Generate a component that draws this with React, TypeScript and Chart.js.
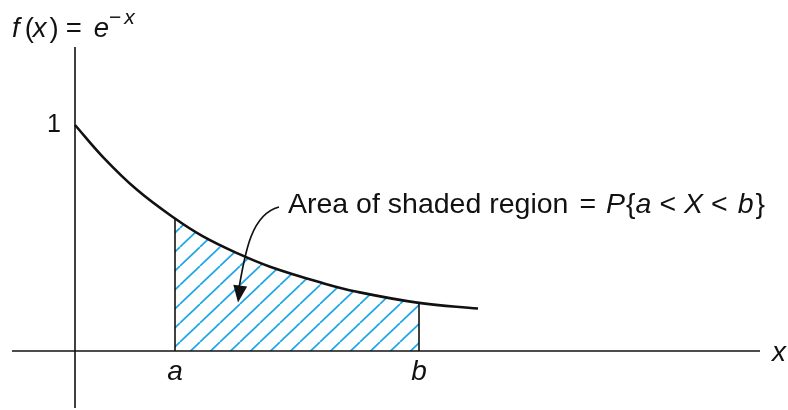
import { useEffect, useRef } from "react";
import { Chart, registerables } from "chart.js";

Chart.register(...registerables);

// Samples of the decaying density curve f(x) = e^{-x}
const curveX = [0, 0.28, 0.62, 1.0, 1.28, 1.62, 1.95, 2.48, 2.82, 3.44, 4.03];
const curveY = [1.0, 0.858, 0.713, 0.586, 0.507, 0.433, 0.373, 0.3, 0.262, 0.213, 0.188];

// Integration bounds a and b
const boundLabels = ["a", "b"];
const boundValues = [1.0, 3.44];

// Extent of the drawn axes
const xAxisExtent = [-0.63, 6.85];
const yAxisExtent = [-0.252, 1.345];

// Single labelled tick on the vertical axis
const yTickValues = [1];
const yTickLabels = ["1"];

// Callout arrow: cubic Bézier (start, control 1, control 2, tip) in data units
const arrowPoints = [
  [2.04, 0.637],
  [1.77, 0.606],
  [1.7, 0.447],
  [1.63, 0.215],
];
const calloutAnchor = [2.13, 0.611];

// Visible window of the plot in data units
const xView = [-0.75, 7.13];
const yView = [-0.261, 1.553];

const FONT = "'Liberation Sans', Arial, Helvetica, sans-serif";
const HATCH = "#1fa6e6";
const INK = "#111111";

type Run = { t: string; italic?: boolean; size?: number; dy?: number; gap?: number };

function drawRuns(ctx: CanvasRenderingContext2D, x: number, y: number, runs: Run[], baseSize: number) {
  let cx = x;
  for (const r of runs) {
    cx += r.gap ?? 0;
    const size = r.size ?? baseSize;
    ctx.font = `${r.italic ? "italic " : ""}${size}px ${FONT}`;
    ctx.fillText(r.t, cx, y + (r.dy ?? 0));
    cx += ctx.measureText(r.t).width;
  }
}

const pts = curveX.map((x, i) => ({ x, y: curveY[i] }));
const shaded = pts.filter((p) => p.x >= boundValues[0] - 1e-9 && p.x <= boundValues[1] + 1e-9);
const valueAt = (x: number) => curveY[curveX.indexOf(x)];

export default function App() {
  const ref = useRef<HTMLCanvasElement>(null);

  useEffect(() => {
    const canvas = ref.current!;
    const ctx = canvas.getContext("2d")!;

    // Diagonal hatch tile
    const tile = document.createElement("canvas");
    tile.width = 20;
    tile.height = 19;
    const tc = tile.getContext("2d")!;
    tc.strokeStyle = HATCH;
    tc.lineWidth = 1.7;
    for (const dx of [-20, 0, 20]) {
      tc.beginPath();
      tc.moveTo(dx, 19);
      tc.lineTo(dx + 20, 0);
      tc.stroke();
    }
    const hatch = ctx.createPattern(tile, "repeat")!;

    const annotate = {
      id: "annotate",
      afterDatasetsDraw(chart: any) {
        const c: CanvasRenderingContext2D = chart.ctx;
        const xs = chart.scales.x;
        const ys = chart.scales.y;
        const px = (v: number) => xs.getPixelForValue(v);
        const py = (v: number) => ys.getPixelForValue(v);
        c.save();
        c.fillStyle = INK;
        c.strokeStyle = INK;

        // Title: f(x) = e^{-x}
        c.textBaseline = "alphabetic";
        c.textAlign = "left";
        drawRuns(
          c,
          12,
          37,
          [
            { t: "f", italic: true },
            { t: "(", gap: 5 },
            { t: "x", italic: true, gap: -1 },
            { t: ")", gap: 3 },
            { t: "=", gap: 7 },
            { t: "e", italic: true, gap: 12 },
            { t: "\u2212", size: 21, dy: -13, gap: 0 },
            { t: "x", italic: true, size: 21, dy: -13, gap: 3 },
          ],
          27.5
        );

        // Tick label on y axis
        c.textAlign = "right";
        c.textBaseline = "middle";
        c.font = `25px ${FONT}`;
        yTickValues.forEach((v, i) => c.fillText(yTickLabels[i], px(0) - 14, py(v)));

        // Bound labels a, b
        c.textAlign = "center";
        c.textBaseline = "alphabetic";
        c.font = `italic 28px ${FONT}`;
        boundValues.forEach((v, i) => c.fillText(boundLabels[i], px(v), py(0) + 29));

        // Axis name
        c.textAlign = "left";
        c.fillText("x", px(xAxisExtent[1]) + 12, py(0) + 10);

        // Callout text
        drawRuns(
          c,
          px(calloutAnchor[0]),
          py(calloutAnchor[1]),
          [
            { t: "Area of shaded region" },
            { t: "=", gap: 11 },
            { t: "P", italic: true, gap: 10 },
            { t: "{", gap: 1 },
            { t: "a", italic: true },
            { t: "<", gap: 8 },
            { t: "X", italic: true, gap: 8 },
            { t: "<", gap: 8 },
            { t: "b", italic: true, gap: 10 },
            { t: "}", gap: 2 },
          ],
          28.5
        );

        // Curved arrow
        const [p0, p1, p2, p3] = arrowPoints.map(([x, y]) => [px(x), py(y)]);
        c.lineWidth = 1.7;
        c.beginPath();
        c.moveTo(p0[0], p0[1]);
        c.bezierCurveTo(p1[0], p1[1], p2[0], p2[1], p3[0], p3[1] - 8);
        c.stroke();
        const dx = p3[0] - p2[0];
        const dy = p3[1] - p2[1];
        const len = Math.hypot(dx, dy);
        const ux = dx / len;
        const uy = dy / len;
        const headLen = 17;
        const halfW = 7;
        const bx = p3[0] - ux * headLen;
        const by = p3[1] - uy * headLen;
        c.beginPath();
        c.moveTo(p3[0], p3[1]);
        c.lineTo(bx - uy * halfW, by + ux * halfW);
        c.lineTo(bx + uy * halfW, by - ux * halfW);
        c.closePath();
        c.fill();

        c.restore();
      },
    };

    const chart = new Chart(ctx, {
      type: "line",
      data: {
        datasets: [
          {
            // density curve
            data: pts,
            borderColor: INK,
            borderWidth: 2.6,
            tension: 0.4,
            pointRadius: 0,
            fill: false,
            order: 0,
          },
          ...boundValues.map((b) => ({
            data: [
              { x: b, y: 0 },
              { x: b, y: valueAt(b) },
            ],
            borderColor: INK,
            borderWidth: 1.6,
            pointRadius: 0,
            fill: false,
            order: 1,
          })),
          {
            // horizontal axis
            data: [
              { x: xAxisExtent[0], y: 0 },
              { x: xAxisExtent[1], y: 0 },
            ],
            borderColor: INK,
            borderWidth: 1.6,
            pointRadius: 0,
            fill: false,
            order: 2,
          },
          {
            // vertical axis
            data: [
              { x: 0, y: yAxisExtent[0] },
              { x: 0, y: yAxisExtent[1] },
            ],
            borderColor: INK,
            borderWidth: 1.6,
            pointRadius: 0,
            fill: false,
            order: 2,
          },
          {
            // hatched probability region
            data: shaded,
            borderWidth: 0,
            borderColor: "rgba(0,0,0,0)",
            backgroundColor: hatch as any,
            tension: 0.4,
            pointRadius: 0,
            fill: "origin",
            order: 3,
          },
        ],
      },
      options: {
        animation: false,
        responsive: false,
        layout: { padding: 0 },
        plugins: { legend: { display: false }, tooltip: { enabled: false } },
        scales: {
          x: { type: "linear", min: xView[0], max: xView[1], display: false },
          y: { type: "linear", min: yView[0], max: yView[1], display: false },
        },
      },
      plugins: [annotate],
    } as any);

    return () => chart.destroy();
  }, []);

  return (
    <div style={{ position: "absolute", left: 0, top: 0, width: 788, height: 410, background: "#fff" }}>
      <canvas ref={ref} width={788} height={410} />
    </div>
  );
}
